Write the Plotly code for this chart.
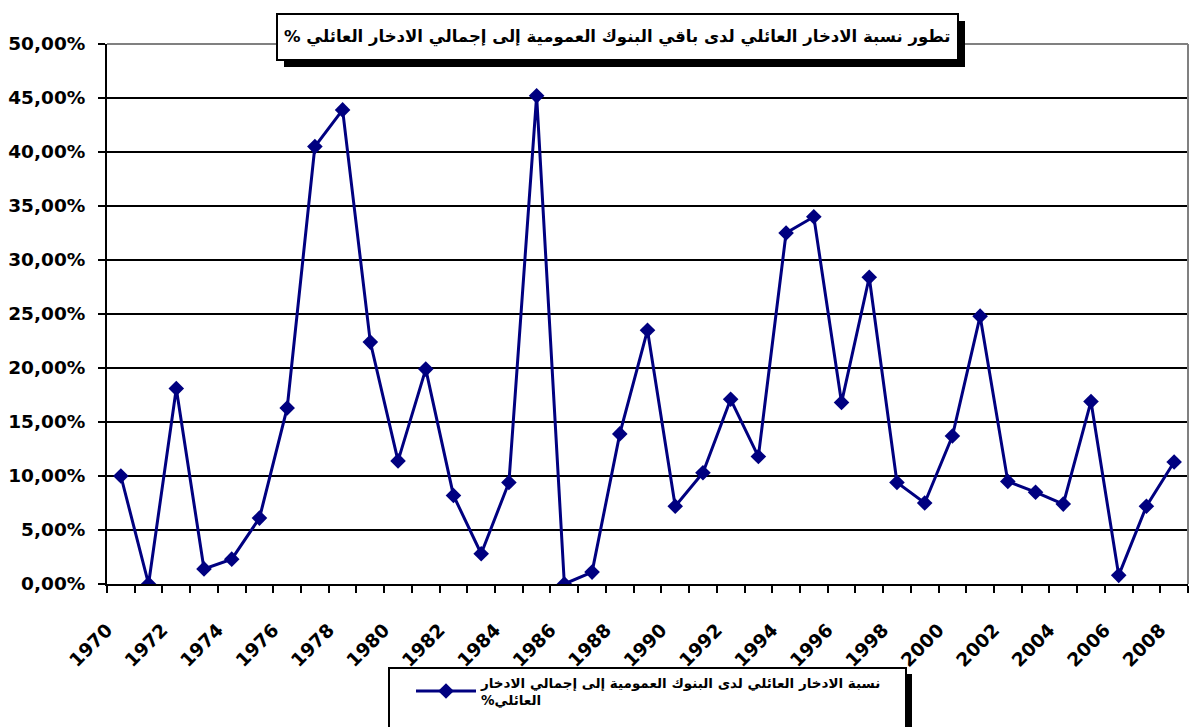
import plotly.graph_objects as go

# Annual series, 1970-2008 (percent)
years = list(range(1970, 2009))
share_pct = [
    10.0, 0.0, 18.1, 1.4, 2.3, 6.1, 16.3, 40.5, 43.9, 22.4,
    11.4, 19.9, 8.2, 2.8, 9.4, 45.2, 0.0, 1.1, 13.9, 23.5,
    7.2, 10.3, 17.1, 11.8, 32.5, 34.0, 16.8, 28.4, 9.4, 7.5,
    13.7, 24.8, 9.5, 8.5, 7.4, 16.9, 0.8, 7.2, 11.3,
]
y_ticks = [0, 5, 10, 15, 20, 25, 30, 35, 40, 45, 50]
y_tick_text = [f"{v},00%" for v in y_ticks]
label_years = [y for y in years if y % 2 == 0]

RLM = "\u200f"
title_text = "تطور نسبة الادخار العائلي لدى باقي البنوك العمومية إلى إجمالي الادخار العائلي %" + RLM
series_name = ("نسبة الادخار العائلي لدى البنوك العمومية إلى إجمالي الادخار"
               "<br>" + "العائلي%" + RLM)

W, H = 1192, 727
ML, MR, MT, MB = 107, 4, 44, 143
PW, PH = W - ML - MR, H - MT - MB


def px2x(px):
    return (px - ML) / PW


def py2y(py):
    return (H - MB - py) / PH


NAVY = "#000080"
TICK_FONT = dict(family="DejaVu Sans", size=18.5, color="black", weight="bold")
AR_FONT = "DejaVu Sans"

fig = go.Figure()
fig.add_trace(go.Scatter(
    x=years, y=share_pct, name=series_name, mode="lines+markers",
    line=dict(color=NAVY, width=3),
    marker=dict(symbol="diamond", size=12, color=NAVY),
))

shapes = []
# plot-area frame (top and right edges in grey)
shapes.append(dict(type="line", xref="paper", yref="paper", x0=0, x1=1, y0=1, y1=1,
                   line=dict(color="#808080", width=2), layer="above"))
shapes.append(dict(type="line", xref="paper", yref="paper", x0=1, x1=1, y0=0, y1=1,
                   line=dict(color="#808080", width=2), layer="above"))

# title box with drop shadow
tx0, tx1, ty0, ty1 = 277, 958, 14, 60
shapes.append(dict(type="rect", xref="paper", yref="paper",
                   x0=px2x(tx0 + 7), x1=px2x(tx1 + 7), y0=py2y(ty1 + 7), y1=py2y(ty0 + 7),
                   fillcolor="black", line=dict(width=0), layer="above"))
shapes.append(dict(type="rect", xref="paper", yref="paper",
                   x0=px2x(tx0), x1=px2x(tx1), y0=py2y(ty1), y1=py2y(ty0),
                   fillcolor="white", line=dict(color="black", width=2), layer="above"))

# legend box with drop shadow
lx0, lx1, ly0, ly1 = 389, 906, 668, 745
shapes.append(dict(type="rect", xref="paper", yref="paper",
                   x0=px2x(lx0 + 6), x1=px2x(lx1 + 6), y0=py2y(ly1 + 6), y1=py2y(ly0 + 6),
                   fillcolor="black", line=dict(width=0), layer="above"))
shapes.append(dict(type="rect", xref="paper", yref="paper",
                   x0=px2x(lx0), x1=px2x(lx1), y0=py2y(ly1), y1=py2y(ly0),
                   fillcolor="white", line=dict(color="black", width=2), layer="above"))

fig.update_layout(
    width=W, height=H,
    margin=dict(l=ML, r=MR, t=MT, b=MB, autoexpand=False),
    paper_bgcolor="white", plot_bgcolor="white",
    shapes=shapes,
    showlegend=True,
    legend=dict(x=px2x(411), y=py2y(667), xanchor="left", yanchor="top",
                itemwidth=60,
                bgcolor="rgba(0,0,0,0)", borderwidth=0,
                font=dict(family=AR_FONT, size=13.5, color="black", weight="bold")),
    annotations=[dict(
        text=title_text, xref="paper", yref="paper",
        x=px2x((tx0 + tx1) / 2), y=py2y((ty0 + ty1) / 2),
        xanchor="center", yanchor="middle", showarrow=False,
        font=dict(family=AR_FONT, size=16.5, color="black", weight="bold"),
    )],
    xaxis=dict(
        range=[1969.5, 2008.5], showgrid=False, zeroline=False,
        showline=True, linecolor="black", linewidth=2,
        tickmode="array", tickvals=[y - 0.5 for y in label_years],
        ticktext=[str(y) for y in label_years], tickangle=-45,
        # labelled ticks are spacers only; the visible marks come from the minor ticks
        ticks="outside", ticklen=26, tickwidth=2, tickcolor="rgba(0,0,0,0)",
        tickfont=TICK_FONT,
        minor=dict(tickmode="linear", tick0=1969.5, dtick=1, ticks="outside",
                   ticklen=7, tickwidth=2, tickcolor="black", showgrid=False),
    ),
    yaxis=dict(
        range=[0, 50], showgrid=True, gridcolor="black", gridwidth=2,
        zeroline=False, showline=True, linecolor="black", linewidth=2,
        tickmode="array", tickvals=y_ticks, ticktext=y_tick_text,
        ticks="outside", ticklen=7, tickwidth=2, tickcolor="black",
        ticklabelstandoff=9,
        tickfont=TICK_FONT,
    ),
)

fig.write_html("out.html")
